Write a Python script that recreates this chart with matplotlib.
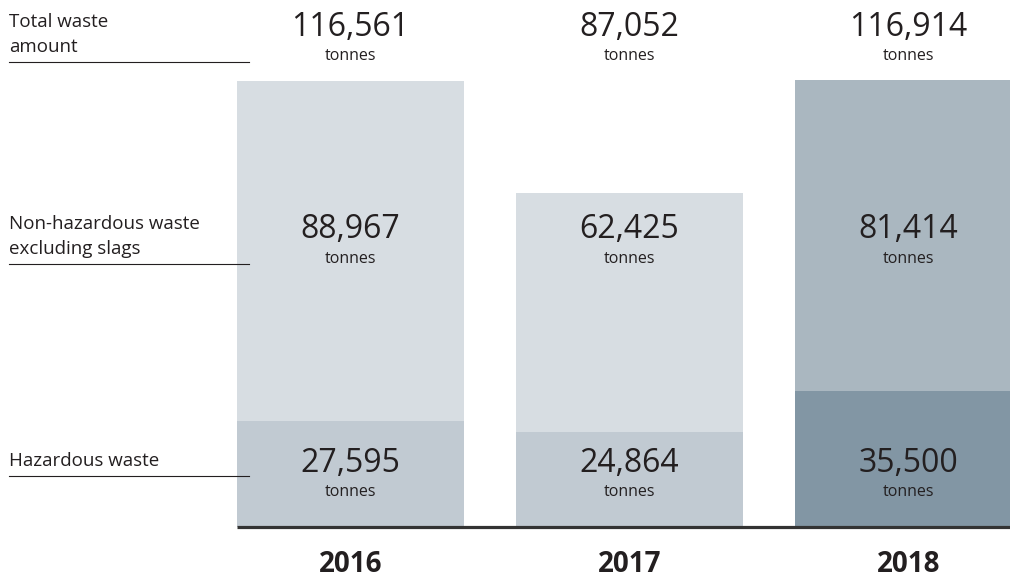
import matplotlib
matplotlib.use("Agg")
import matplotlib.pyplot as plt

plt.rcParams['font.family'] = ['Open Sans', 'DejaVu Sans']

years = ["2016", "2017", "2018"]
hazardous = [27595, 24864, 35500]
non_hazardous = [88967, 62425, 81414]
totals = [116561, 87052, 116914]
row_labels = ["Total waste\namount", "Non-hazardous waste\nexcluding slags", "Hazardous waste"]
unit = "tonnes"

haz_colors = ["#c1cad2", "#c1cad2", "#8296a4"]
non_colors = ["#d7dde2", "#d7dde2", "#aab7c0"]
TXT = "#231f20"

W, H = 1010, 579
fig = plt.figure(figsize=(W / 100, H / 100), dpi=100)

# axes: baseline at pixel y=526.5, x=0 at pixel 350.5, 279 px per category
base_px = 526.5
px_per_cat = 279.0
x0_px = 350.5
ax = fig.add_axes([0, (H - base_px) / H, 1, base_px / H])
ax.set_xlim(-x0_px / px_per_cat, (W - x0_px) / px_per_cat)
ax.set_ylim(0, totals[0] * base_px / 445.0)
ax.axis('off')

xs = list(range(len(years)))
bw = 227 / px_per_cat
ax.bar(xs, hazardous, width=bw, color=haz_colors, linewidth=0, zorder=1)
ax.bar(xs, non_hazardous, width=bw, bottom=hazardous, color=non_colors, linewidth=0, zorder=1)
ax.plot([xs[0] - bw / 2, ax.get_xlim()[1]], [0, 0], color="#333333", lw=2.3,
        solid_capstyle='butt', clip_on=False, zorder=3)


def fx(px):
    return px / W


def fy(py):
    return 1 - py / H


# left labels and rules
line_y = [62, 264, 476]
for lab, ly in zip(row_labels, line_y):
    fig.add_artist(plt.Line2D([fx(9), fx(249)], [fy(ly), fy(ly)], color="#231f20", lw=0.8, zorder=5))
    lines = lab.split("\n")
    for i, t in enumerate(reversed(lines)):
        fig.text(fx(9), fy(ly - 10 - 25 * i), t, fontsize=13.5, color=TXT, ha='left', va='baseline')

# value labels
num_y = [28, 230, 464]
ton_y = [56, 259, 492]
series = [totals, non_hazardous, hazardous]
for vals, ny, ty in zip(series, num_y, ton_y):
    for x, v in zip(xs, vals):
        xp = ax.transData.transform((x, 0))[0]
        fig.text(fx(xp), fy(ny), f"{v:,}", fontsize=23, color=TXT, ha='center', va='center')
        fig.text(fx(xp), fy(ty), unit, fontsize=11.5, color=TXT, ha='center', va='center')

for x, yr in zip(xs, years):
    xp = ax.transData.transform((x, 0))[0]
    fig.text(fx(xp), fy(564), yr, fontsize=20, fontweight='bold', color=TXT, ha='center', va='center')

fig.savefig("out.png", dpi=100)
